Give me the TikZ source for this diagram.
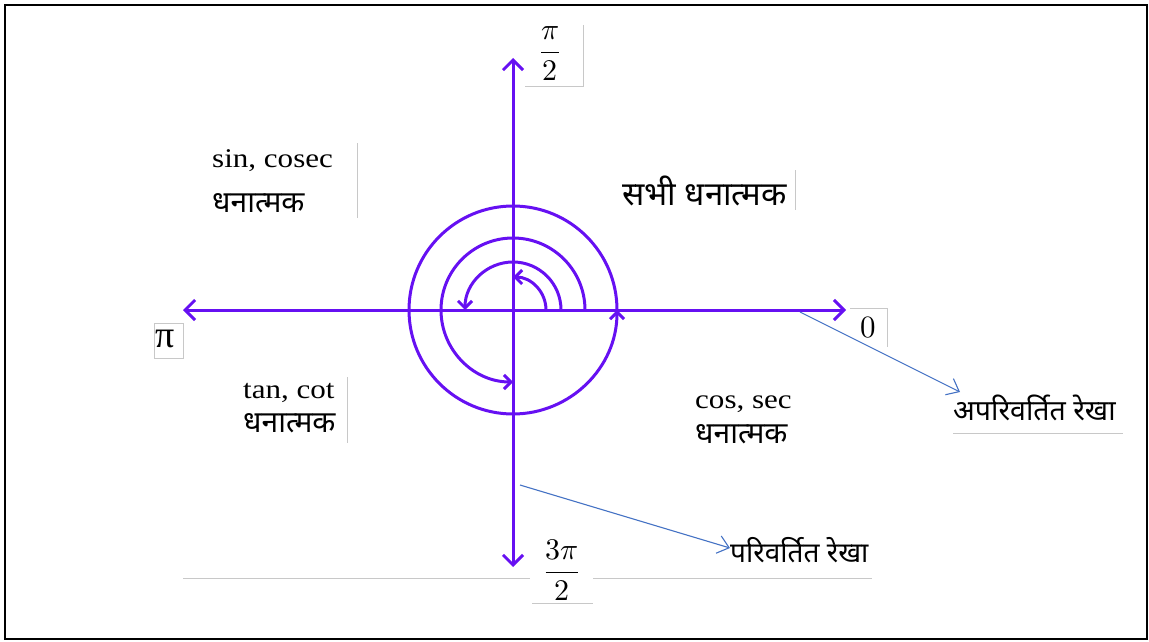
\documentclass[tikz,border=0pt]{standalone}
\usepackage{fontspec}
\usepackage{unicode-math}
\setmathfont{Latin Modern Math}
\setmainfont{Liberation Serif}
\newfontfamily\latinfont{Liberation Serif}[FakeStretch=1.15]
\newfontfamily\devfont[Script=Devanagari]{Noto Sans}
\usetikzlibrary{arrows.meta,calc}
\definecolor{axv}{RGB}{102,16,242}
\definecolor{thinb}{RGB}{68,114,196}
\definecolor{boxg}{RGB}{200,200,200}
\begin{document}
\begin{tikzpicture}[x=1pt,y=1pt,
  axis/.style={draw=axv,line width=3pt,-{Straight Barb[length=10pt,width=20pt]}},
  turn/.style={draw=axv,line width=3pt,-{Straight Barb[length=7pt,width=14pt]}},
  pointer/.style={draw=thinb,line width=1.1pt,-{Straight Barb[length=11pt,width=18pt,line width=1.1pt]}},
  latlab/.style={anchor=base west,inner sep=0pt,font=\latinfont\fontsize{27}{30}\selectfont},
  devlab/.style={anchor=base west,inner sep=0pt,font=\devfont\fontsize{#1}{32}\selectfont},
  devlab/.default=28,
  mlab/.style={anchor=base,inner sep=0pt,font=\fontsize{30}{36}\selectfont},
  boxline/.style={draw=boxg,line width=1pt}]
\path[use as bounding box] (0,0) rectangle (1149,-642);
\draw[line width=2pt] (5,-5) rectangle (1147,-639);

% axes
\coordinate (O) at (513,-310);
\coordinate (top) at (513,-58);
\coordinate (bot) at (513,-567);
\coordinate (lft) at (183,-310);
\coordinate (rgt) at (846,-310);
\draw[axis] (O) -- (top);
\draw[axis] (O) -- (bot);
\draw[axis] (O) -- (lft);
\draw[axis] (O) -- (rgt);

% rotation arcs
\draw[turn] ($(O)+(33,0)$) arc[start angle=0,end angle=90,radius=33];
\draw[turn] ($(O)+(48,0)$) arc[start angle=0,end angle=180,radius=48];
\draw[turn] ($(O)+(72,0)$) arc[start angle=0,end angle=270,radius=72];
\draw[turn] ($(O)+(104,0)$) arc[start angle=0,end angle=360,radius=104];

% grey box edges
\draw[boxline] (583,-25) -- (583,-87) -- (525,-87);
\draw[boxline] (154,-323) rectangle (183,-358);
\draw[boxline] (850,-308) -- (887,-308) -- (887,-347);
\draw[boxline] (183,-578) -- (530,-578);
\draw[boxline] (593,-578) -- (872,-578);
\draw[boxline] (532,-603) -- (593,-603);
\draw[boxline] (357,-143) -- (357,-218);
\draw[boxline] (795,-170) -- (795,-210);
\draw[boxline] (347,-377) -- (347,-443);
\draw[boxline] (953,-433) -- (1123,-433);

% axis labels
\node[mlab] (halfpi) at (550,-60) {$\displaystyle\frac{\pi}{2}$};
\node[mlab] (threehalfpi) at (562,-580) {$\displaystyle\frac{3\pi}{2}$};
\node[inner sep=0pt,font=\fontsize{38}{42}\selectfont] (pi) at (165,-339) {π};
\node[inner sep=0pt,font=\fontsize{31}{36}\selectfont] (zero) at (868,-328) {$0$};

% quadrant labels
\node[latlab] (q2a) at (212,-167) {sin, cosec};
\node[devlab=30] (q2b) at (212,-212) {धनात्मक};
\node[devlab=33] (q1) at (622,-205) {सभी धनात्मक};
\node[latlab] (q3a) at (243,-398) {tan, cot};
\node[devlab=30] (q3b) at (243,-432) {धनात्मक};
\node[latlab] (q4a) at (695,-408) {cos, sec};
\node[devlab=30] (q4b) at (695,-443) {धनात्मक};

% pointer labels
\node[devlab=28.5] (fixed) at (953,-420) {अपरिवर्तित रेखा};
\node[devlab=28] (moving) at (730,-562) {परिवर्तित रेखा};
\coordinate (p1s) at (800,-312);
\coordinate (p1e) at (960,-392);
\coordinate (p2s) at (520,-485);
\coordinate (p2e) at (730,-548);
\draw[pointer] (p1s) -- (p1e);
\draw[pointer] (p2s) -- (p2e);
\end{tikzpicture}
\end{document}
